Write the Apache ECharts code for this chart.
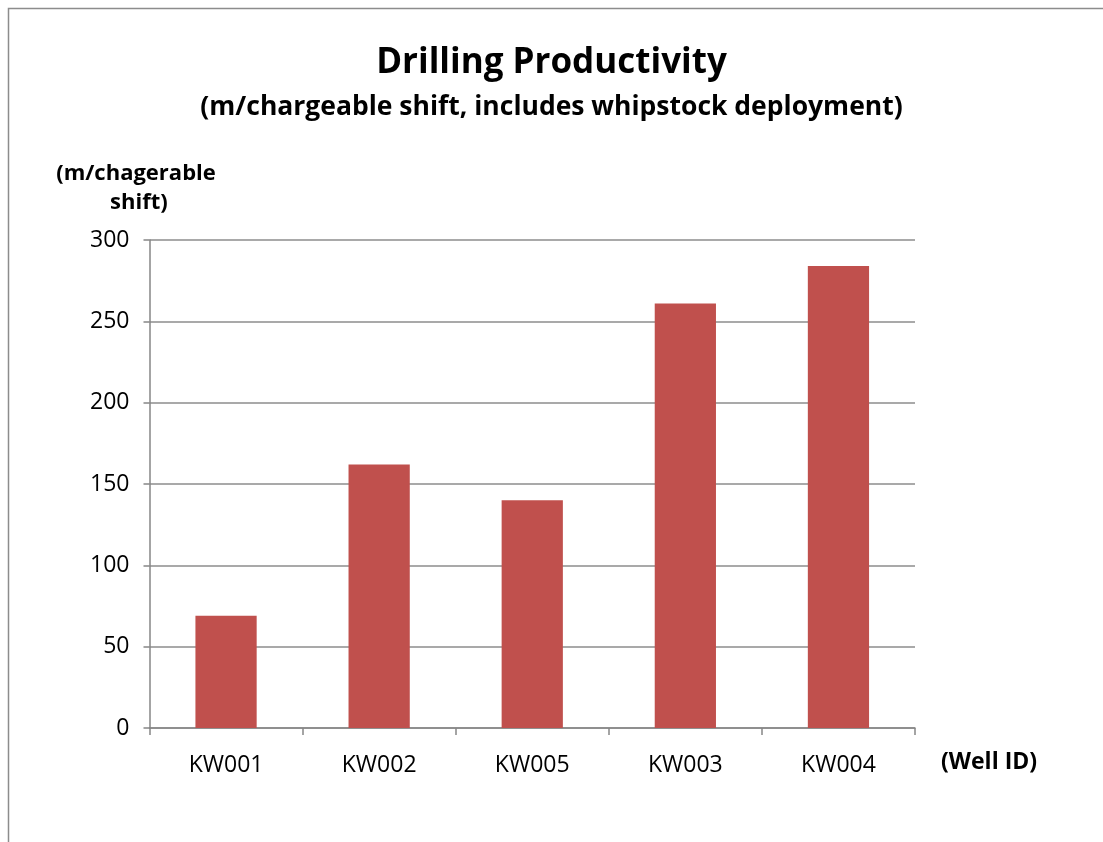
<!DOCTYPE html>
<html>
<head>
<meta charset="utf-8">
<script src="https://cdn.jsdelivr.net/npm/echarts@6/dist/echarts.min.js"></script>
<style>
html,body{margin:0;padding:0;background:#fff;}
#chart{width:1103px;height:842px;}
</style>
</head>
<body>
<div id="chart"></div>
<script>
const categories = ['KW001', 'KW002', 'KW005', 'KW003', 'KW004'];
const productivity = [69, 162, 140, 261, 284];
const titleText = 'Drilling Productivity';
const subtitleText = '(m/chargeable shift, includes whipstock deployment)';
const yAxisName = '(m/chagerable\n shift)';
const xAxisName = '(Well ID)';

const FONT = '"Open Sans", Lato, sans-serif';
const chart = echarts.init(document.getElementById('chart'));
chart.setOption({
  animation: false,
  backgroundColor: '#fff',
  title: [{
    text: titleText,
    left: 'center',
    top: 41,
    textStyle: { fontFamily: FONT, fontWeight: 'bold', fontSize: 35, color: '#000' }
  }, {
    text: subtitleText,
    left: 'center',
    top: 89,
    textStyle: { fontFamily: FONT, fontWeight: 'bold', fontSize: 26.5, color: '#000' }
  }],
  grid: { left: 149.5, right: 188, top: 240, bottom: 114 },
  xAxis: {
    type: 'category',
    data: categories,
    axisLine: { lineStyle: { color: '#868686', width: 1.5 } },
    axisTick: { show: true, length: 7, lineStyle: { color: '#868686', width: 1.5 } },
    axisLabel: { fontFamily: FONT, fontSize: 23, color: '#000', margin: 26 }
  },
  yAxis: {
    type: 'value',
    min: 0, max: 300, interval: 50,
    axisLine: { show: true, lineStyle: { color: '#868686', width: 1.5 } },
    axisTick: { show: true, length: 6, lineStyle: { color: '#868686', width: 1.5 } },
    splitLine: { lineStyle: { color: '#8c8c8c', width: 1.5 } },
    axisLabel: { fontFamily: FONT, fontSize: 23, color: '#000', margin: 20 }
  },
  series: [{
    type: 'bar',
    data: productivity,
    barWidth: '40%',
    itemStyle: { color: '#C0504D' }
  }],
  graphic: [
    { type: 'rect', shape: { x: 8.5, y: 8.5, width: 1200, height: 1000 }, style: { fill: null, stroke: '#8c8c8c', lineWidth: 1.5 }, silent: true },
    { type: 'text', x: 136, y: 159, style: { text: yAxisName, fontFamily: FONT, fontWeight: 'bold', fontSize: 22, fill: '#000', align: 'center', lineHeight: 29 } },
    { type: 'text', x: 941, y: 751, style: { text: xAxisName, fontFamily: FONT, fontWeight: 'bold', fontSize: 23, fill: '#000' } }
  ]
});
</script>
</body>
</html>
